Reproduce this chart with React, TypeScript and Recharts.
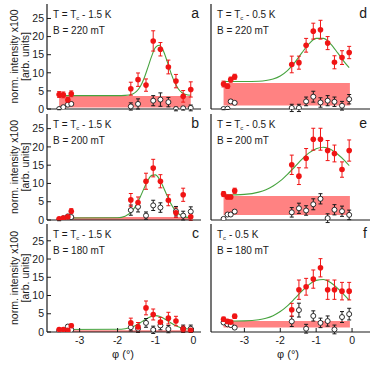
import React from "react";
import { ComposedChart, Scatter, Line, XAxis, YAxis, ErrorBar, ReferenceArea } from "recharts";

// measured angles (left and right columns)
const phiL = [-3.54, -3.43, -3.31, -3.22, -1.65, -1.46, -1.25, -1.06, -0.87, -0.66, -0.46, -0.27, -0.07];
const phiR = [-3.58, -3.47, -3.38, -3.27, -1.68, -1.48, -1.28, -1.08, -0.88, -0.68, -0.49, -0.28, -0.08];

const redA = [4.0, 3.9, 2.5, 4.2, 5.6, 8.1, 6.6, 18.8, 16.5, 11.6, 7.7, 3.5, 5.4];
const redErrA = [0.8, 0.8, 0.7, 0.8, 1.8, 1.85, 1.7, 2.8, 1.85, 1.9, 1.85, 1.6, 2.1];
const openA = [0.0, 0.5, 1.2, 1.4, 0.7, 1.4, null, 2.3, 2.6, 1.9, 0.0, 0.2, 0.3];
const openErrA = [0.2, 0.3, 0.4, 0.4, 1.0, 1.4, 0, 1.4, 1.85, 1.3, 0.5, 0.5, 0.8];

const redB = [0.3, 0.5, 0.9, 2.4, 5.5, 4.8, 10.6, 14.2, 10.6, 5.4, 2.0, 6.9, 0.9];
const redErrB = [0.3, 0.3, 0.4, 0.7, 1.75, 1.5, 2.2, 2.4, 1.8, 1.5, 1.3, 1.8, 1.0];
const openB = [0.0, 0.5, 1.0, 0.8, 2.7, 3.6, 1.2, 4.0, 3.4, null, 2.4, 1.2, 2.3];
const openErrB = [0.2, 0.3, 0.3, 0.3, 1.4, 1.4, 1.0, 1.4, 1.3, 0, 1.3, 1.2, 1.3];

const redC = [0.7, 0.7, 0.5, 1.7, 2.5, 1.4, 6.6, 4.8, 2.7, 3.8, 3.0, 0.8, 0.5];
const redErrC = [0.3, 0.3, 0.3, 0.5, 1.3, 1.2, 1.9, 1.5, 1.3, 1.6, 1.3, 0.8, 0.6];
const openC = [0.3, 0.4, 1.5, 0.6, 1.3, 0.9, 2.5, 0.6, 1.8, 0.8, null, 0.9, 0.9];
const openErrC = [0.2, 0.2, 0.4, 0.3, 1.0, 1.0, 1.2, 1.0, 1.2, 1.0, 0, 1.0, 1.0];

const redD = [6.9, 6.3, 8.1, 8.9, 12.3, 12.8, 17.6, 21.5, 21.9, 18.2, 12.9, 14.2, 15.6];
const redErrD = [0.8, 0.6, 0.7, 0.7, 2.3, 1.8, 1.9, 2.2, 2.6, 1.8, 1.8, 1.9, 1.7];
const openD = [0.0, 0.1, 2.1, 1.7, 0.3, 0.3, 2.1, 3.4, 1.8, 2.3, 2.0, 0.9, 2.7];
const openErrD = [0.2, 0.2, 0.4, 0.4, 1.0, 1.0, 1.2, 1.5, 1.3, 1.4, 1.3, 1.2, 1.3];

const redE = [7.1, 6.3, 6.3, 8.0, 15.1, 12.0, 16.9, 22.1, 22.1, 19.0, 18.2, 13.8, 19.0];
const redErrE = [0.7, 0.5, 0.5, 0.7, 2.65, 2.3, 2.65, 3.0, 3.0, 2.75, 2.3, 2.1, 2.9];
const openE = [0.3, 1.5, 1.5, 2.3, 2.1, 3.2, 2.6, 4.3, 5.8, 0.5, 2.8, 2.4, 1.4];
const openErrE = [0.2, 0.3, 0.3, 0.4, 1.3, 1.4, 1.3, 1.5, 1.4, 1.2, 1.4, 1.4, 1.3];

const redF = [3.5, 2.9, 2.7, 4.3, 6.1, 11.6, 12.4, 14.5, 17.6, 11.6, 11.6, 11.2, 11.2];
const redErrF = [0.6, 0.5, 0.5, 0.6, 1.75, 2.65, 2.3, 2.5, 2.5, 2.65, 2.65, 2.4, 2.4];
const openF = [2.6, 2.1, 1.9, 1.2, 2.9, 6.0, 0.9, 4.4, 2.5, 3.0, 0.7, 4.1, 4.9];
const openErrF = [0.3, 0.3, 0.3, 0.3, 1.4, 1.9, 1.2, 1.4, 1.3, 1.4, 1.2, 1.5, 1.6];

// fitted curves
const fitXL = [-3.54, -2.0, -1.8, -1.6, -1.5, -1.4, -1.3, -1.2, -1.1, -1.0, -0.9, -0.8, -0.7, -0.6, -0.5, -0.4, -0.3, -0.2, -0.07];
const fitA = [3.7, 3.7, 3.75, 4.15, 4.85, 6.2, 8.5, 11.5, 14.6, 17.0, 17.6, 16.2, 13.4, 10.2, 7.5, 5.6, 4.5, 4.0, 3.8];
const fitB = [0.55, 0.62, 1.03, 2.64, 4.22, 6.34, 8.72, 10.87, 12.21, 12.35, 11.22, 9.19, 6.81, 4.61, 2.9, 1.77, 1.12, 0.79, 0.61];
const fitC = [0.7, 0.74, 0.9, 1.43, 1.91, 2.52, 3.21, 3.86, 4.33, 4.5, 4.33, 3.86, 3.21, 2.52, 1.91, 1.43, 1.1, 0.9, 0.77];

const fitXR = [-3.58, -3.0, -2.6, -2.4, -2.2, -2.0, -1.8, -1.6, -1.4, -1.2, -1.0, -0.8, -0.6, -0.4, -0.2, -0.08];
const fitD = [7.6, 7.6, 7.68, 7.85, 8.27, 9.12, 10.6, 12.8, 15.5, 18.0, 19.5, 19.5, 18.0, 15.5, 12.8, 11.4];
const fitE = [6.82, 7.01, 7.63, 8.29, 9.3, 10.7, 12.5, 14.5, 16.6, 18.35, 19.5, 19.9, 19.36, 18.0, 16.2, 14.9];
const fitF = [3.0, 3.06, 3.37, 3.77, 4.48, 5.6, 7.17, 9.12, 11.19, 13.0, 14.15, 14.4, 13.56, 11.96, 9.95, 8.71];

// background bands [x1, x2, y1, y2]
const bandA = [-3.54, -0.07, 0.4, 3.6];
const bandB = [-3.54, -0.07, 0.0, 0.8];
const bandC = [-3.54, -0.07, 0.0, 0.5];
const bandD = [-3.58, -0.06, 1.0, 7.2];
const bandE = [-3.58, -0.06, 1.4, 6.6];
const bandF = [-3.58, -0.06, 1.2, 3.0];

const xTicks = [-3, -2, -1, 0];
const yTicks = [0, 5, 10, 15, 20, 25];

const FONT = '"Liberation Sans", Arial, sans-serif';
const INK = "#1a1a1a";

const pts = (xs: number[], ys: (number | null)[], es: number[]) =>
  xs.map((x, i) => ({ x, y: ys[i], e: es[i] })).filter((p) => p.y !== null);

const RedDot = (p: any) => <circle cx={p.cx} cy={p.cy} r={2.8} fill="#f01414" />;
const OpenDot = (p: any) => <circle cx={p.cx} cy={p.cy} r={2.5} fill="#fff" stroke={INK} strokeWidth={0.9} />;

type PanelProps = {
  x: number; y: number; w: number; h: number;
  xDomain: number[]; yDomain: number[];
  phi: number[];
  red: number[]; redErr: number[];
  open: (number | null)[]; openErr: number[];
  fitX: number[]; fit: number[];
  band: number[];
  xLabels: boolean; yLabels: boolean;
};

const Panel: React.FC<PanelProps> = (p) => {
  const padL = p.yLabels ? 40 : 3;
  const padR = 3;
  const padT = 3;
  const padB = p.xLabels ? 22 : 8;
  const tickStyle = { fontSize: 10.5, fill: INK };
  const axisLine = { stroke: INK, strokeWidth: 1.2 };
  const tickLine = { stroke: INK, strokeWidth: 1 };
  return (
    <div style={{ position: "absolute", left: p.x - padL, top: p.y - padT }}>
      <ComposedChart
        width={p.w + padL + padR}
        height={p.h + padT + padB}
        margin={{ top: padT, right: padR, bottom: 0, left: 0 }}
      >
        <XAxis xAxisId="b" type="number" dataKey="x" domain={p.xDomain} ticks={xTicks} interval={0}
          allowDataOverflow height={padB} tickSize={-4} tickMargin={9}
          tick={p.xLabels ? tickStyle : false} axisLine={axisLine} tickLine={tickLine} />
        <XAxis xAxisId="t" orientation="top" type="number" dataKey="x" domain={p.xDomain} ticks={xTicks} interval={0}
          allowDataOverflow height={0} tickSize={-4} tick={false} axisLine={axisLine} tickLine={tickLine} />
        <YAxis yAxisId="l" type="number" domain={p.yDomain} ticks={yTicks} interval={0}
          allowDataOverflow width={padL} tickSize={-4} tickMargin={7}
          tick={p.yLabels ? tickStyle : false} axisLine={axisLine} tickLine={tickLine} />
        <YAxis yAxisId="r" orientation="right" type="number" domain={p.yDomain} ticks={yTicks} interval={0}
          allowDataOverflow width={0} tickSize={-4} tick={false} axisLine={axisLine} tickLine={tickLine} />
        <ReferenceArea xAxisId="b" yAxisId="l" x1={p.band[0]} x2={p.band[1]} y1={p.band[2]} y2={p.band[3]}
          fill="#ff8282" fillOpacity={1} stroke="none" />
        <Line xAxisId="b" yAxisId="l" data={pts(p.fitX, p.fit, p.fit)} dataKey="y" type="monotone"
          stroke="#46a33e" strokeWidth={1.1} dot={false} activeDot={false} isAnimationActive={false} />
        <Scatter xAxisId="b" yAxisId="l" data={pts(p.phi, p.open, p.openErr)} dataKey="y"
          shape={OpenDot} isAnimationActive={false}>
          <ErrorBar dataKey="e" direction="y" width={2} stroke={INK} strokeWidth={1} />
        </Scatter>
        <Scatter xAxisId="b" yAxisId="l" data={pts(p.phi, p.red, p.redErr)} dataKey="y"
          shape={RedDot} isAnimationActive={false}>
          <ErrorBar dataKey="e" direction="y" width={2} stroke="#f01414" strokeWidth={1} />
        </Scatter>
      </ComposedChart>
    </div>
  );
};

const L = { x: 47, w: 154, xDomain: [-3.86, 0.2] };
const R = { x: 211, w: 159, xDomain: [-3.93, 0.5] };
const rows = [
  { y: 4, h: 105, yDomain: [0, 29] },
  { y: 114, h: 106, yDomain: [0, 29] },
  { y: 224, h: 108, yDomain: [0, 29.6] },
];

const annL = ["1.5", "1.5", "1.5"];
const fields = ["220", "200", "180"];
const lettersL = ["a", "b", "c"];
const lettersR = ["d", "e", "f"];

export default function App() {
  return (
    <div style={{ position: "absolute", left: 0, top: 0, width: 374, height: 365, background: "#fff", fontFamily: FONT }}>
      <Panel {...L} {...rows[0]} phi={phiL} red={redA} redErr={redErrA} open={openA} openErr={openErrA}
        fitX={fitXL} fit={fitA} band={bandA} xLabels={false} yLabels />
      <Panel {...L} {...rows[1]} phi={phiL} red={redB} redErr={redErrB} open={openB} openErr={openErrB}
        fitX={fitXL} fit={fitB} band={bandB} xLabels={false} yLabels />
      <Panel {...L} {...rows[2]} phi={phiL} red={redC} redErr={redErrC} open={openC} openErr={openErrC}
        fitX={fitXL} fit={fitC} band={bandC} xLabels yLabels />
      <Panel {...R} {...rows[0]} phi={phiR} red={redD} redErr={redErrD} open={openD} openErr={openErrD}
        fitX={fitXR} fit={fitD} band={bandD} xLabels={false} yLabels={false} />
      <Panel {...R} {...rows[1]} phi={phiR} red={redE} redErr={redErrE} open={openE} openErr={openErrE}
        fitX={fitXR} fit={fitE} band={bandE} xLabels={false} yLabels={false} />
      <Panel {...R} {...rows[2]} phi={phiR} red={redF} redErr={redErrF} open={openF} openErr={openErrF}
        fitX={fitXR} fit={fitF} band={bandF} xLabels yLabels={false} />
      <svg width={374} height={365} style={{ position: "absolute", left: 0, top: 0, pointerEvents: "none" }}
        fontFamily={FONT} fill={INK}>
        {rows.map((r, i) => {
          const cy = r.y + r.h / 2;
          return (
            <g key={i}>
              <text transform={`translate(14, ${cy}) rotate(-90)`} textAnchor="middle" dominantBaseline="central" fontSize={10.5}>
                norm. intensity x100
              </text>
              <text transform={`translate(24.5, ${cy}) rotate(-90)`} textAnchor="middle" dominantBaseline="central" fontSize={10.5}>
                [arb. units]
              </text>
              <text x={53} y={r.y + 14} fontSize={10}>
                T = T<tspan fontSize={6} dy={2}>c</tspan><tspan dy={-2}> - {annL[i]} K</tspan>
              </text>
              <text x={53} y={r.y + 29.5} fontSize={10}>B = {fields[i]} mT</text>
              {i < 2 ? (
                <text x={217} y={r.y + 14} fontSize={10}>
                  T = T<tspan fontSize={6} dy={2}>c</tspan><tspan dy={-2}> - 0.5 K</tspan>
                </text>
              ) : (
                <text x={217} y={r.y + 14} fontSize={10}>
                  T<tspan fontSize={6} dy={2}>c</tspan><tspan dy={-2}> - 0.5 K</tspan>
                </text>
              )}
              <text x={217} y={r.y + 29.5} fontSize={10}>B = {fields[i]} mT</text>
              <text x={199} y={r.y + 14} fontSize={14} textAnchor="end">{lettersL[i]}</text>
              <text x={367} y={r.y + 14} fontSize={14} textAnchor="end">{lettersR[i]}</text>
            </g>
          );
        })}
        <text x={123} y={358} fontSize={11} textAnchor="middle">φ (°)</text>
        <text x={288} y={358} fontSize={11} textAnchor="middle">φ (°)</text>
      </svg>
    </div>
  );
}
